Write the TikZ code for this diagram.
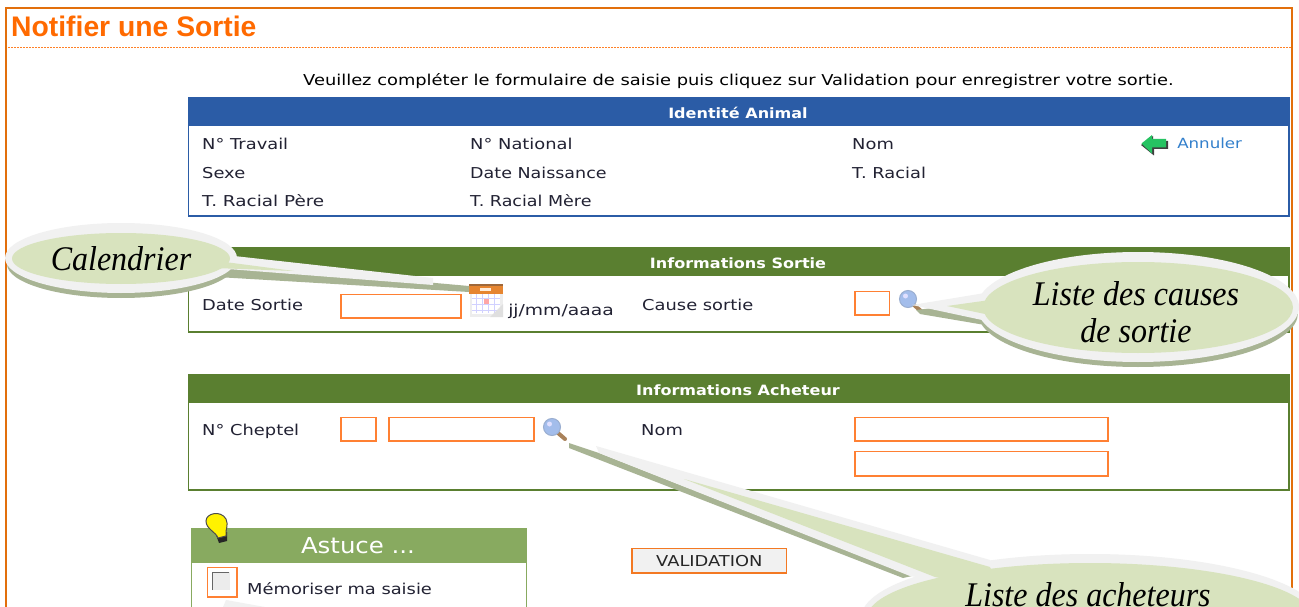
\documentclass[tikz,border=0pt]{standalone}
\usepackage{fontspec}
\setmainfont{DejaVu Sans}
\newfontfamily\arialf{Liberation Sans}
\newfontfamily\timesf{Liberation Serif}
\usetikzlibrary{shapes.geometric}
\definecolor{frameor}{HTML}{E26F0C}
\definecolor{titleor}{HTML}{FF6A00}
\definecolor{inputor}{HTML}{FF8033}
\definecolor{bluehd}{HTML}{2B5CA6}
\definecolor{greenhd}{HTML}{5A7F30}
\definecolor{astuce}{HTML}{88AA60}
\definecolor{txt}{HTML}{222233}
\definecolor{call}{HTML}{D8E3BE}
\definecolor{callrim}{HTML}{F1F1F1}
\definecolor{callsh}{HTML}{A8B494}
\definecolor{lensc}{HTML}{A3BDEB}
\definecolor{handc}{HTML}{A9825A}
\tikzset{
 x=1pt,y=-1pt,
 lbl/.style={anchor=base west,inner sep=0pt,text=txt,xscale=1.19,font=\fontsize{15}{17}\selectfont},
 hd/.style={anchor=center,inner sep=0pt,text=white,xscale=1.13,font=\fontsize{14.2}{16}\selectfont\bfseries},
 inp/.style={draw=inputor,line width=1.8pt,fill=white},
 calltxt/.style={inner sep=0pt,align=center,text=black,yscale=1.08,font=\timesf\itshape\fontsize{32}{34}\selectfont},
}
\newcommand{\magnif}[2]{%
 \begin{scope}[shift={(#1,#2)}]
 \draw[line width=4pt,color=handc,line cap=round] (15,15) -- (22,21);
 \fill[color=lensc,draw=lensc!75!gray,line width=1pt] (9,9) circle (8.5);
 \fill[color=blue!12!white] (6.5,6) circle (2.5);
 \end{scope}}
\begin{document}
\begin{tikzpicture}
\useasboundingbox (0,0) rectangle (1299,607);
\fill[white] (0,0) rectangle (1299,607);
% frame
\draw[frameor,line width=1.8pt] (6,607) -- (6,8) -- (1292,8) -- (1292,607);
\node[anchor=base west,inner sep=0pt,text=titleor,font=\arialf\bfseries\fontsize{28.3}{30}\selectfont] (titre) at (11,37) {Notifier une Sortie};
\draw[titleor!85,line width=1.3pt,dash pattern=on 2pt off 1pt] (8,47.5) -- (1291,47.5);
\node[lbl,text=black] (intro) at (303,85.5) {Veuillez compléter le formulaire de saisie puis cliquez sur Validation pour enregistrer votre sortie.};
% identite
\draw[bluehd,line width=1.4pt,fill=white] (188.5,97.5) rectangle (1289,216);
\fill[bluehd] (188,97) rectangle (1289.5,126);
\node[hd] (h1) at (738,113) {Identité Animal};
\node[lbl] (a1) at (202,149.5) {N° Travail};
\node[lbl] (a2) at (470,149.5) {N° National};
\node[lbl] (a3) at (852,149.5) {Nom};
\node[lbl] (b1) at (202,178.5) {Sexe};
\node[lbl,xscale=0.98] (b2) at (470,178.5) {Date Naissance};
\node[lbl] (b3) at (852,178.5) {T. Racial};
\node[lbl,xscale=1.03] (c1) at (202,207) {T. Racial Père};
\node[lbl,xscale=0.98] (c2) at (470,207) {T. Racial Mère};
\node[lbl,text=blue!50!cyan!60!gray,font=\fontsize{14}{16}\selectfont] (annul) at (1177,148.5) {Annuler};
\fill[black!75] (1141,145) -- (1153,136) -- (1153,141) -- (1168,141) -- (1168,149) -- (1154,149) -- (1154,155.5) -- cycle;
\fill[green!45!teal!85] (1141.5,143.5) -- (1152,135) -- (1152,139) -- (1166,139) -- (1166,147.5) -- (1152,147.5) -- (1152,153.5) -- cycle;
% sortie
\draw[greenhd,line width=1.4pt,fill=white] (188.5,247.5) rectangle (1289,332);
\fill[greenhd] (188,247) rectangle (1289.5,276);
\node[hd] (h2) at (738,263.5) {Informations Sortie};
\node[lbl] (d1) at (202,310) {Date Sortie};
\draw[inp] (341,294.5) rectangle (461,318) ;
\node[lbl,xscale=1.05] (d2) at (508,315) {jj/mm/aaaa};
\node[lbl] (d3) at (642,310) {Cause sortie};
\draw[inp] (855,291.5) rectangle (889.5,315);
% calendar
\fill[gray!14] (470,291) rectangle (503,317);
\fill[white] (472,293) rectangle (500,314);
\foreach \gx in {476,482,488,494}{\draw[blue!18!white,line width=1pt] (\gx,294)--(\gx,313);}
\foreach \gy in {298,304,310}{\draw[blue!18!white,line width=1pt] (472,\gy)--(500,\gy);}
\fill[gray!25] (490,317) -- (503,317) -- (503,304) -- cycle;
\fill[frameor!85!white] (469,284) rectangle (503,294);
\fill[frameor!60!black!80!white] (469,284) rectangle (503,286);
\fill[white!85!orange] (480,287.5) rectangle (491,291);
\fill[red!35] (484,299) rectangle (489,304);
\magnif{899}{290}
% acheteur
\draw[greenhd,line width=1.4pt,fill=white] (188.5,374.5) rectangle (1289,490);
\fill[greenhd] (188,374) rectangle (1289.5,403);
\node[hd] (h3) at (738,390) {Informations Acheteur};
\node[lbl] (e1) at (202,435.5) {N° Cheptel};
\draw[inp] (341,417.5) rectangle (376,441);
\draw[inp] (389,417.5) rectangle (534,441);
\magnif{543}{418}
\node[lbl] (e2) at (641,435.5) {Nom};
\draw[inp] (855,417.5) rectangle (1108,441);
\draw[inp] (855,451.5) rectangle (1108,476);
% astuce
\draw[astuce,line width=1.2pt,fill=white] (191.5,528.5) -- (526.5,528.5) -- (526.5,607) (191.5,607) -- (191.5,528.5);
\fill[astuce] (191,528) rectangle (527,563);
\node[anchor=center,inner sep=0pt,text=white,xscale=1.11,font=\fontsize{22}{24}\selectfont] (h4) at (358,546) {Astuce ...};
\draw[inp] (207.5,567.5) rectangle (237,597);
\fill[gray!15] (212,572) rectangle (230,590);
\draw[gray!80!black,line width=1.6pt] (212.5,590) -- (212.5,572.5) -- (229,572.5);
\node[lbl] (f1) at (247,594) {Mémoriser ma saisie};
% bulb
\fill[black!85] (216,535) -- (227,532) -- (227,541) -- (219,543) -- cycle;
\fill[yellow,draw=black!70,line width=1pt] (218,538) .. controls (216,532) and (206,529) .. (206,521) .. controls (206,513) and (221,510) .. (226,519) .. controls (229,525) and (225,530) .. (226,536) -- cycle;
% button
\draw[draw=inputor!60!frameor,line width=1.8pt,fill=callrim] (632,548.5) rectangle (786.5,573);
\node[lbl,text=black!85] (val) at (656,566.5) {VALIDATION};
% callout: calendrier
\fill[callsh] (121,264) ellipse [x radius=114,y radius=34];
\fill[callsh] (200,262) -- (469,286) -- (469,292) -- (200,276) -- cycle;
\fill[callrim] (121,258) ellipse [x radius=116,y radius=35];
\fill[callrim] (225,255) -- (433,278) -- (433,285) -- (215,268) -- cycle;
\fill[call] (121,258.5) ellipse [x radius=109,y radius=25.5];
\fill[call] (225,262) -- (294,271) -- (215,268) -- cycle;
\node[calltxt,anchor=center] (n1) at (121,259) {Calendrier};
% callout: causes
\fill[callsh] (1138,313) ellipse [x radius=160,y radius=54];
\fill[callsh] (1000,300) -- (916,310) -- (920,314) -- (985,325) -- cycle;
\fill[callrim] (1138,307) ellipse [x radius=161,y radius=55];
\fill[callrim] (985,293) -- (912,305) -- (982,320) -- cycle;
\fill[call] (1138,307.5) ellipse [x radius=155,y radius=45.5];
\fill[call] (990,300) -- (947,306) -- (985,314) -- cycle;
\node[calltxt,anchor=center] (n2) at (1136,312) {Liste des causes\\de sortie};
% callout: acheteurs
\fill[callsh] (569,443) -- (599,453) -- (912,576) -- (903,578) -- (569,448) -- cycle;
\begin{scope}
\clip (0,0) rectangle (1299,607);
\fill[callrim] (1090,618) ellipse [x radius=229,y radius=64];
\fill[callrim] (596,446) -- (990,560) -- (1000,590) -- (910,576) -- (599,453) -- cycle;
\fill[call] (1090,618) ellipse [x radius=223,y radius=55];
\fill[call] (684,479) -- (990,567) -- (1000,590) -- (935,577) -- cycle;
\fill[callrim] (226,600) -- (265,607) -- (223,607) -- cycle;
\end{scope}
\node[calltxt,anchor=base] (n3) at (1088,606.5) {Liste des acheteurs};
\end{tikzpicture}
\end{document}
